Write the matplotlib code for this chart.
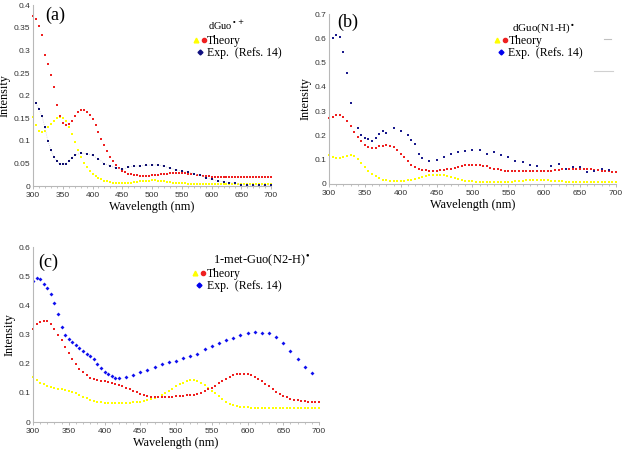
import matplotlib
matplotlib.use("Agg")
import matplotlib.pyplot as plt
from matplotlib.lines import Line2D
from matplotlib.legend_handler import HandlerTuple

# ---------------- data ----------------
# theory spectra are sampled every 5 nm, 300..700
wl_th = list(range(300, 701, 5))

# (a) dGuo radical cation
a_red = [0.375, 0.37, 0.355, 0.335, 0.29, 0.27, 0.245, 0.22, 0.18, 0.155,
         0.14, 0.135, 0.138, 0.145, 0.155, 0.163, 0.168, 0.168, 0.165, 0.158,
         0.148, 0.135, 0.12, 0.105, 0.09, 0.077, 0.065, 0.055, 0.047, 0.04,
         0.034, 0.031, 0.028, 0.026, 0.025, 0.024, 0.023, 0.023, 0.023, 0.023,
         0.024, 0.024, 0.025, 0.026, 0.027, 0.028, 0.029, 0.03, 0.03, 0.03,
         0.03, 0.029, 0.028, 0.027, 0.026, 0.025, 0.024, 0.023, 0.022, 0.022,
         0.021, 0.021, 0.021, 0.02, 0.02, 0.02, 0.02, 0.02, 0.02, 0.02,
         0.02, 0.02, 0.02, 0.02, 0.02, 0.02, 0.02, 0.02, 0.02, 0.02, 0.02]
a_yel = [0.153, 0.135, 0.122, 0.12, 0.123, 0.13, 0.138, 0.145, 0.15, 0.152,
         0.15, 0.143, 0.13, 0.115, 0.098, 0.08, 0.065, 0.052, 0.042, 0.033,
         0.026, 0.022, 0.018, 0.015, 0.012, 0.011, 0.009, 0.008, 0.007, 0.007,
         0.007, 0.007, 0.008, 0.008, 0.009, 0.01, 0.011, 0.011, 0.012, 0.012,
         0.013, 0.013, 0.012, 0.012, 0.011, 0.01, 0.009, 0.008, 0.007, 0.007,
         0.006, 0.006, 0.005, 0.005, 0.005, 0.005, 0.005, 0.005, 0.005, 0.005,
         0.005, 0.005, 0.005, 0.005, 0.005, 0.005, 0.005, 0.005, 0.005, 0.005,
         0.005, 0.005, 0.005, 0.005, 0.005, 0.005, 0.005, 0.005, 0.005, 0.005,
         0.005]
a_wl_exp = [305, 310, 315, 320, 325, 330, 335, 340, 345, 350, 355, 360, 365,
            370, 380, 390, 400, 410, 420, 430, 440, 450, 460, 470, 480, 490,
            500, 510, 520, 530, 540, 550, 560, 570, 580, 590, 600, 610, 620,
            630, 640, 650, 660, 670, 680, 690, 700]
a_exp = [0.183, 0.17, 0.155, 0.13, 0.1, 0.08, 0.065, 0.056, 0.048, 0.048,
         0.05, 0.055, 0.062, 0.068, 0.073, 0.072, 0.068, 0.06, 0.05, 0.045,
         0.04, 0.037, 0.042, 0.044, 0.045, 0.046, 0.047, 0.047, 0.044, 0.04,
         0.036, 0.034, 0.031, 0.028, 0.024, 0.019, 0.015, 0.012, 0.01, 0.008,
         0.007, 0.003, 0.002, 0.002, 0.002, 0.002, 0.002]

# (b) dGuo(N1-H) radical
b_red = [0.27, 0.275, 0.282, 0.283, 0.275, 0.26, 0.24, 0.215, 0.195, 0.175,
         0.162, 0.152, 0.148, 0.15, 0.155, 0.158, 0.16, 0.158, 0.153, 0.14,
         0.125, 0.11, 0.095, 0.08, 0.07, 0.063, 0.058, 0.056, 0.055, 0.055,
         0.055, 0.056, 0.058, 0.06, 0.063, 0.066, 0.07, 0.074, 0.077, 0.079,
         0.08, 0.08, 0.078, 0.075, 0.072, 0.067, 0.063, 0.06, 0.057, 0.055,
         0.053, 0.052, 0.052, 0.052, 0.052, 0.052, 0.052, 0.052, 0.052, 0.052,
         0.053, 0.054, 0.055, 0.056, 0.058, 0.06, 0.061, 0.062, 0.063, 0.063,
         0.063, 0.062, 0.061, 0.06, 0.058, 0.057, 0.055, 0.053, 0.052, 0.051,
         0.05]
b_yel = [0.12, 0.11, 0.105, 0.107, 0.112, 0.117, 0.118, 0.113, 0.102, 0.088,
         0.07, 0.055, 0.042, 0.032, 0.024, 0.018, 0.015, 0.014, 0.013, 0.013,
         0.013, 0.014, 0.016, 0.018, 0.021, 0.024, 0.028, 0.032, 0.035, 0.037,
         0.038, 0.037, 0.035, 0.031, 0.027, 0.023, 0.02, 0.016, 0.013, 0.011,
         0.01, 0.009, 0.009, 0.009, 0.009, 0.009, 0.009, 0.009, 0.009, 0.009,
         0.009, 0.009, 0.01, 0.011, 0.013, 0.015, 0.016, 0.017, 0.018, 0.018,
         0.017, 0.016, 0.014, 0.012, 0.011, 0.01, 0.009, 0.008, 0.008, 0.008,
         0.008, 0.008, 0.008, 0.008, 0.008, 0.008, 0.008, 0.008, 0.008, 0.008,
         0.008]
b_wl_exp = [300, 305, 310, 315, 320, 325, 330, 340, 345, 350, 355, 360, 365,
            370, 375, 380, 390, 400, 410, 415, 420, 425, 430, 440, 450, 460,
            470, 480, 490, 500, 510, 520, 530, 540, 550, 560, 570, 580, 590,
            610, 620, 630, 640, 650, 660, 670, 680, 690]
b_exp = [0.56, 0.6, 0.615, 0.605, 0.545, 0.455, 0.335, 0.23, 0.2, 0.19,
         0.185, 0.175, 0.19, 0.205, 0.22, 0.21, 0.23, 0.22, 0.2, 0.18,
         0.165, 0.125, 0.105, 0.095, 0.1, 0.11, 0.125, 0.13, 0.135, 0.14,
         0.14, 0.125, 0.13, 0.12, 0.11, 0.095, 0.092, 0.078, 0.072, 0.072,
         0.082, 0.063, 0.068, 0.068, 0.05, 0.055, 0.06, 0.057]

# (c) 1-met-Guo(N2-H) radical
c_red = [0.32, 0.335, 0.343, 0.347, 0.345, 0.335, 0.32, 0.3, 0.28, 0.258,
         0.238, 0.215, 0.198, 0.182, 0.17, 0.16, 0.152, 0.147, 0.144, 0.142,
         0.14, 0.138, 0.135, 0.132, 0.128, 0.123, 0.118, 0.113, 0.108, 0.102,
         0.097, 0.093, 0.089, 0.087, 0.086, 0.086, 0.086, 0.086, 0.087, 0.087,
         0.088, 0.089, 0.09, 0.091, 0.092, 0.094, 0.097, 0.101, 0.106, 0.112,
         0.118, 0.125, 0.133, 0.141, 0.148, 0.155, 0.16, 0.164, 0.166, 0.166,
         0.165, 0.161, 0.155, 0.148, 0.14, 0.131, 0.122, 0.112, 0.103, 0.096,
         0.09, 0.085, 0.08, 0.077, 0.074, 0.072, 0.071, 0.07, 0.07, 0.07,
         0.07]
c_yel = [0.155, 0.145, 0.135, 0.13, 0.125, 0.121, 0.118, 0.115, 0.113, 0.11,
         0.107, 0.103, 0.098, 0.092, 0.087, 0.082, 0.077, 0.073, 0.07, 0.068,
         0.066, 0.065, 0.064, 0.064, 0.064, 0.064, 0.065, 0.066, 0.067, 0.068,
         0.07, 0.072, 0.075, 0.078, 0.082, 0.087, 0.093, 0.1, 0.107, 0.115,
         0.122, 0.129, 0.135, 0.14, 0.143, 0.143, 0.14, 0.135, 0.128, 0.118,
         0.108, 0.098, 0.088, 0.079, 0.07, 0.063, 0.058, 0.055, 0.053, 0.051,
         0.05, 0.049, 0.048, 0.048, 0.048, 0.048, 0.048, 0.048, 0.048, 0.048,
         0.048, 0.048, 0.048, 0.048, 0.048, 0.048, 0.048, 0.048, 0.048, 0.048,
         0.048]
c_wl_exp = [300, 305, 310, 315, 320, 325, 330, 335, 340, 345, 350, 355, 360,
            365, 370, 375, 380, 385, 390, 395, 400, 405, 410, 415, 420, 430,
            440, 450, 460, 470, 480, 490, 500, 510, 520, 530, 540, 550, 560,
            570, 580, 590, 600, 610, 620, 630, 640, 650, 660, 670, 680, 690]
c_exp = [0.485, 0.495, 0.49, 0.475, 0.46, 0.44, 0.41, 0.37, 0.325, 0.3,
         0.285, 0.275, 0.265, 0.255, 0.245, 0.235, 0.225, 0.215, 0.2, 0.185,
         0.17, 0.165, 0.158, 0.152, 0.15, 0.155, 0.162, 0.172, 0.18, 0.19,
         0.2, 0.205, 0.21, 0.22, 0.228, 0.235, 0.25, 0.262, 0.27, 0.283,
         0.29, 0.3, 0.305, 0.31, 0.307, 0.305, 0.292, 0.27, 0.243, 0.215,
         0.19, 0.168]

YEL = "#ffff00"
RED = "#ee2020"
SERIF = "Liberation Serif"
SANS = "Liberation Sans"

fig = plt.figure(figsize=(6.25, 4.53), dpi=100)
fig.patch.set_facecolor("white")


def style_axes(ax, ymax, ystep):
    ax.set_xlim(300, 700)
    ax.set_ylim(0, ymax)
    ax.set_xticks(range(300, 701, 50))
    n = int(round(ymax / ystep))
    yt = [round(i * ystep, 2) for i in range(n + 1)]
    ax.set_yticks(yt)
    ax.set_yticklabels(["0" if v == 0 else f"{v:g}" for v in yt])
    ax.set_xticks(range(300, 701, 10), minor=True)
    for s in ["top", "right"]:
        ax.spines[s].set_visible(False)
    for s in ["left", "bottom"]:
        ax.spines[s].set_color("#b8b8b8")
        ax.spines[s].set_linewidth(0.8)
    ax.tick_params(axis="both", which="major", labelsize=6, colors="#b8b8b8",
                   labelcolor="#333333", length=2.5, width=0.7, pad=2)
    ax.tick_params(axis="x", which="minor", colors="#b8b8b8", length=1.5, width=0.6)
    ax.tick_params(axis="y", which="major", length=0)
    for lab in ax.get_xticklabels() + ax.get_yticklabels():
        lab.set_fontfamily(SANS)
    ax.set_xlabel("Wavelength (nm)", family=SERIF, fontsize=8.8, labelpad=1)
    ax.set_ylabel("Intensity", family=SERIF, fontsize=8.8, labelpad=2)


def theory(ax, y_red, y_yel):
    ax.plot(wl_th, y_yel, "s", color=YEL, ms=1.7, mew=0, clip_on=False)
    ax.plot(wl_th, y_red, "s", color=RED, ms=1.7, mew=0, clip_on=False)


def legend(ax, title, tsize, tpos, blue, anchor):
    ax.text(tpos[0], tpos[1], title, transform=ax.transAxes, family=SERIF,
            fontsize=tsize, va="center", ha="left")
    h_th = (Line2D([], [], marker="^", ls="none", color=YEL, ms=3.4),
            Line2D([], [], marker="o", ls="none", color=RED, ms=3.0))
    h_ex = Line2D([], [], marker="D", ls="none", color=blue, ms=2.5)
    ax.legend([h_th, h_ex], ["Theory", "Exp.  (Refs. 14)"],
              handler_map={tuple: HandlerTuple(ndivide=None, pad=0.4)},
              loc="upper left", bbox_to_anchor=anchor,
              frameon=False, prop={"family": SERIF, "size": 8.5},
              handlelength=1.0, handletextpad=0.15, labelspacing=0.0,
              borderaxespad=0, borderpad=0)


# ---- (a)
ax1 = fig.add_axes([0.0528, 0.589, 0.381, 0.3996])
theory(ax1, a_red, a_yel)
ax1.plot(a_wl_exp, a_exp, color="#c8c8d4", lw=0.6, ls=":")
ax1.plot(a_wl_exp, a_exp, "s", color="#101070", ms=1.7, mew=0, ls="none")
style_axes(ax1, 0.4, 0.05)
ax1.text(0.05, 0.99, "(a)", transform=ax1.transAxes, family=SERIF,
         fontsize=13, va="top")
legend(ax1, "dGuo$^{\\bullet+}$", 7.5, (0.735, 0.89), "#101080", (0.675, 0.835))

# ---- (b)
ax2 = fig.add_axes([0.5264, 0.594, 0.459, 0.375])
theory(ax2, b_red, b_yel)
ax2.plot(b_wl_exp, b_exp, "s", color="#1a1a8c", ms=2.0, mew=0, ls="none")
style_axes(ax2, 0.7, 0.1)
ax2.text(0.028, 1.0, "(b)", transform=ax2.transAxes, family=SERIF,
         fontsize=13, va="top")
legend(ax2, "dGuo(N1-H)$^{\\bullet}$", 8, (0.638, 0.918), "#0000ee", (0.578, 0.875))
fig.add_artist(Line2D([0.967, 0.978], [0.914, 0.914], color="#c0c0c0", lw=0.8))
fig.add_artist(Line2D([0.950, 0.980], [0.843, 0.843], color="#d0d0d0", lw=0.8))

# ---- (c)
ax3 = fig.add_axes([0.0528, 0.0684, 0.4576, 0.386])
theory(ax3, c_red, c_yel)
ax3.plot(c_wl_exp, c_exp, "D", color="#1010ee", ms=2.0, mew=0, ls="none")
style_axes(ax3, 0.6, 0.1)
ax3.text(0.02, 0.96, "(c)", transform=ax3.transAxes, family=SERIF,
         fontsize=13, va="top")
legend(ax3, "1-met-Guo(N2-H)$^{\\bullet}$", 9, (0.63, 0.926), "#0000ee", (0.56, 0.878))

fig.savefig("out.png", dpi=100)
